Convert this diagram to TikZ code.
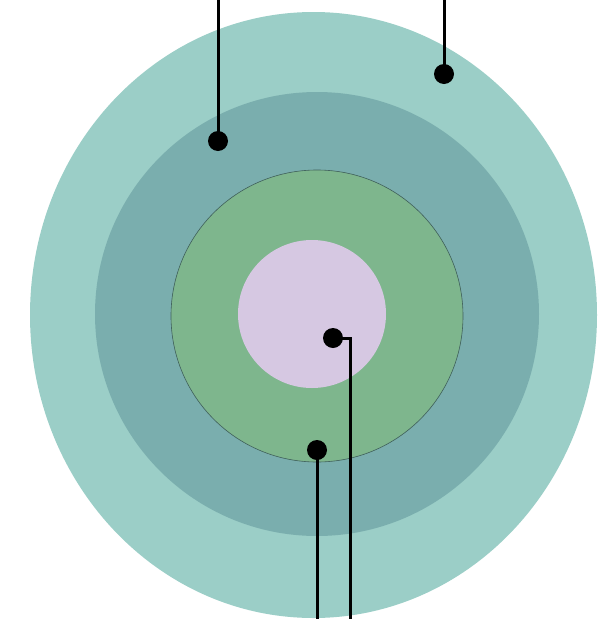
\documentclass[tikz,border=0pt]{standalone}
\definecolor{ringA}{HTML}{9BCEC7}
\definecolor{ringB}{HTML}{7AAEAE}
\definecolor{ringC}{HTML}{7EB68D}
\definecolor{ringD}{HTML}{D6C8E2}
\definecolor{edgeC}{HTML}{3F5F5A}
\begin{document}
\begin{tikzpicture}[x=1pt,y=-1pt,
  dot/.style={circle,fill=black,inner sep=0pt,minimum size=20pt},
  lead/.style={line width=3pt,black}]
\useasboundingbox (0,0) rectangle (614,619);
\begin{scope}
\clip (0,0) rectangle (614,619);
\fill[ringA] (313.5,315) ellipse [x radius=283.5, y radius=303];
\fill[ringB] (317,314) circle [radius=222];
\filldraw[fill=ringC,draw=edgeC,line width=0.6pt] (317,316) circle [radius=146];
\fill[ringD] (312,314) circle [radius=74];
\end{scope}
\node[dot] (d1) at (218,141) {};
\node[dot] (d2) at (444,74) {};
\node[dot] (d3) at (333,338) {};
\node[dot] (d4) at (317,450) {};
\coordinate (t1) at (218,0);
\coordinate (t2) at (444,0);
\coordinate (b4) at (317,619);
\coordinate (k3) at (350,338);
\coordinate (b3) at (350,619);
\draw[lead] (d1.center) -- (t1);
\draw[lead] (d2.center) -- (t2);
\draw[lead] (d4.center) -- (b4);
\draw[lead] (d3.center) -- (k3) -- (b3);
\end{tikzpicture}
\end{document}
